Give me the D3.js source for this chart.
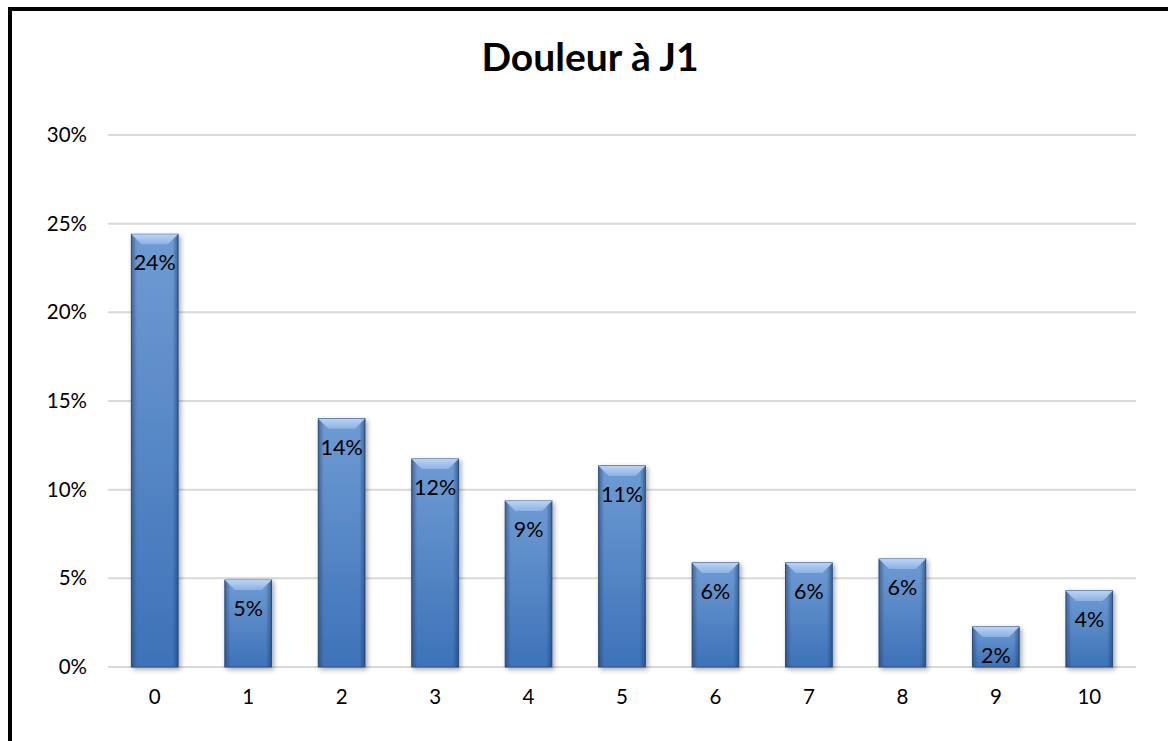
<!DOCTYPE html>
<html><head><meta charset="utf-8">
<script src="https://cdn.jsdelivr.net/npm/d3@7"></script>
<style>body{margin:0;background:#fff;} svg{display:block;}</style>
</head><body>
<script>
const categories = ["0","1","2","3","4","5","6","7","8","9","10"];
const values = [24.4, 4.9, 14.0, 11.73, 9.36, 11.34, 5.87, 5.87, 6.09, 2.26, 4.29];
const labels = ["24%","5%","14%","12%","9%","11%","6%","6%","6%","2%","4%"];
const yTicks = [0,5,10,15,20,25,30];
const title = "Douleur à J1";

(function(){
const W = 1168, H = 741;
const svg = d3.select("body").append("svg").attr("width", W).attr("height", H);
const font = "Lato, 'Liberation Sans', sans-serif";

const defs = svg.append("defs");
const g1 = defs.append("linearGradient").attr("id","barGrad").attr("x1","0").attr("x2","0").attr("y1","0").attr("y2","1");
g1.append("stop").attr("offset","0%").attr("stop-color","#6f9bd3");
g1.append("stop").attr("offset","100%").attr("stop-color","#3d72b8");
const g2 = defs.append("linearGradient").attr("id","sideGrad").attr("x1","0").attr("x2","1").attr("y1","0").attr("y2","0");
g2.append("stop").attr("offset","0%").attr("stop-color","#1f3e6b").attr("stop-opacity",0.55);
g2.append("stop").attr("offset","12%").attr("stop-color","#1f3e6b").attr("stop-opacity",0);
g2.append("stop").attr("offset","88%").attr("stop-color","#1f3e6b").attr("stop-opacity",0);
g2.append("stop").attr("offset","100%").attr("stop-color","#1f3e6b").attr("stop-opacity",0.6);
const g3 = defs.append("linearGradient").attr("id","bevGrad").attr("x1","0").attr("x2","0").attr("y1","0").attr("y2","1");
g3.append("stop").attr("offset","0%").attr("stop-color","#c4dbf7");
g3.append("stop").attr("offset","100%").attr("stop-color","#8fb4e6");
const f = defs.append("filter").attr("id","shadow").attr("x","-20%").attr("y","-10%").attr("width","150%").attr("height","130%");
f.append("feDropShadow").attr("dx",2).attr("dy",2).attr("stdDeviation",2.5).attr("flood-color","#000").attr("flood-opacity",0.35);

// border
svg.append("rect").attr("x",10).attr("y",9).attr("width",W+20).attr("height",H+20)
  .attr("fill","#fff").attr("stroke","#000").attr("stroke-width",4);

const pl = 108, pr = 1136, pt = 135, pb = 667;
const x = d3.scaleBand().domain(categories).range([pl,pr]).paddingInner(0.5).paddingOuter(0.25);
const y = d3.scaleLinear().domain([0,30]).range([pb, pt]);

// gridlines
svg.append("g").selectAll("line").data(yTicks).join("line")
  .attr("x1",pl).attr("x2",pr).attr("y1",d=>y(d)).attr("y2",d=>y(d))
  .attr("stroke","#d9d9d9").attr("stroke-width",2);

// y axis labels
const yAxis = d3.axisLeft(y).tickValues(yTicks).tickFormat(d=>d+"%").tickSize(0).tickPadding(21);
const ya = svg.append("g").attr("transform",`translate(${pl},0)`).call(yAxis);
ya.select(".domain").remove();
ya.selectAll("text").attr("font-family",font).attr("font-size",20.5).attr("fill","#000");

// x axis labels
const xAxis = d3.axisBottom(x).tickSize(0).tickPadding(22);
const xa = svg.append("g").attr("transform",`translate(0,${pb})`).call(xAxis);
xa.select(".domain").remove();
xa.selectAll("text").attr("font-family",font).attr("font-size",20.5).attr("fill","#000");

// bars
const bars = svg.append("g").selectAll("g").data(categories).join("g");
bars.append("rect").attr("x",d=>x(d)).attr("y",(d,i)=>y(values[i])).attr("width",x.bandwidth())
  .attr("height",(d,i)=>pb-y(values[i])).attr("fill","url(#barGrad)").attr("filter","url(#shadow)")
  .attr("stroke","#2c5286").attr("stroke-width",1);
bars.append("rect").attr("x",d=>x(d)).attr("y",(d,i)=>y(values[i])).attr("width",x.bandwidth())
  .attr("height",(d,i)=>pb-y(values[i])).attr("fill","url(#sideGrad)");
// top bevel
bars.append("path").attr("d",(d,i)=>{
  const x0 = x(d), x1 = x0 + x.bandwidth(), t = y(values[i]), b = 10;
  return `M${x0},${t}L${x1},${t}L${x1-b},${t+b}L${x0+b},${t+b}Z`;
}).attr("fill","url(#bevGrad)").attr("opacity",0.9);

// data labels
bars.append("text").attr("x",d=>x(d)+x.bandwidth()/2).attr("y",(d,i)=>y(values[i])+36)
  .attr("text-anchor","middle").attr("font-family",font).attr("font-size",21.5).attr("fill","#000")
  .text((d,i)=>labels[i]);

// title
svg.append("text").attr("x",590).attr("y",71).attr("text-anchor","middle")
  .attr("font-family",font).attr("font-weight","bold").attr("font-size",39).attr("fill","#000").text(title);
})();
</script>
</body></html>
